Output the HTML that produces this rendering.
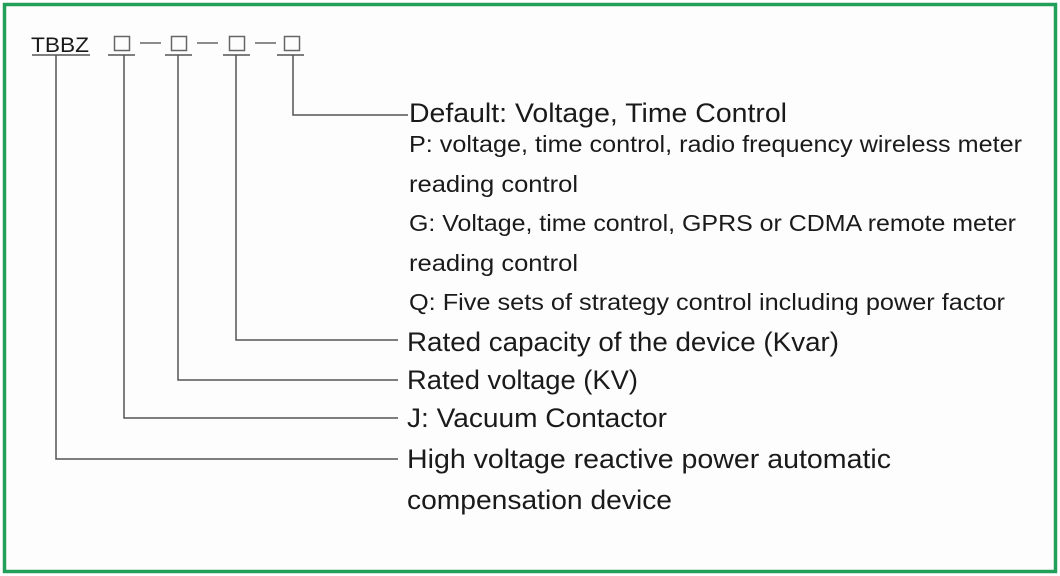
<!DOCTYPE html>
<html><head><meta charset="utf-8"><style>
html,body{margin:0;padding:0;background:#fff;}
svg{display:block;}
text{font-family:"Liberation Sans",sans-serif;fill:#1a1a1a;}
</style></head><body>
<svg width="1060" height="576" viewBox="0 0 1060 576" xmlns="http://www.w3.org/2000/svg">
<rect x="0" y="0" width="1060" height="576" fill="#fff"/>
<rect x="4.5" y="4.5" width="1051" height="567" fill="#fdfdfd" stroke="#22a05a" stroke-width="3.5"/>
<text x="31" y="52" font-size="21" textLength="58" lengthAdjust="spacingAndGlyphs">TBBZ</text>
<g fill="none" stroke="#666" stroke-width="1.5">
<rect x="114.5" y="36.5" width="15" height="14"/>
<rect x="171.5" y="36.5" width="15" height="14"/>
<rect x="229.5" y="36.5" width="15" height="14"/>
<rect x="284.5" y="36.5" width="15" height="14"/>
<line x1="140" y1="43" x2="161" y2="43"/>
<line x1="197" y1="43" x2="218" y2="43"/>
<line x1="255" y1="43" x2="276" y2="43"/>
</g>
<g fill="none" stroke="#555" stroke-width="1.5">
<line x1="32" y1="55" x2="90" y2="55"/>
<line x1="108" y1="55" x2="135" y2="55"/>
<line x1="165" y1="55" x2="192" y2="55"/>
<line x1="223" y1="55" x2="250" y2="55"/>
<line x1="277" y1="55" x2="304" y2="55"/>
<polyline points="56,55 56,459 398,459"/>
<polyline points="124,55 124,418 398,418"/>
<polyline points="178,55 178,380 398,380"/>
<polyline points="236,55 236,340 398,340"/>
<polyline points="293,55 293,115 408,115"/>
</g>
<g font-size="27">
<text x="409" y="122" textLength="378" lengthAdjust="spacingAndGlyphs">Default: Voltage, Time Control</text>
<text x="407" y="351" textLength="432" lengthAdjust="spacingAndGlyphs">Rated capacity of the device (Kvar)</text>
<text x="407" y="389" textLength="231" lengthAdjust="spacingAndGlyphs">Rated voltage (KV)</text>
<text x="407" y="427" textLength="260" lengthAdjust="spacingAndGlyphs">J: Vacuum Contactor</text>
<text x="407" y="468" textLength="484" lengthAdjust="spacingAndGlyphs">High voltage reactive power automatic</text>
<text x="407" y="509" textLength="265" lengthAdjust="spacingAndGlyphs">compensation device</text>
</g>
<g font-size="23">
<text x="409" y="152" textLength="613" lengthAdjust="spacingAndGlyphs">P: voltage, time control, radio frequency wireless meter</text>
<text x="409" y="192" textLength="169" lengthAdjust="spacingAndGlyphs">reading control</text>
<text x="409" y="231" textLength="607" lengthAdjust="spacingAndGlyphs">G: Voltage, time control, GPRS or CDMA remote meter</text>
<text x="409" y="271" textLength="169" lengthAdjust="spacingAndGlyphs">reading control</text>
<text x="409" y="310" textLength="596" lengthAdjust="spacingAndGlyphs">Q: Five sets of strategy control including power factor</text>
</g>
</svg>
</body></html>
